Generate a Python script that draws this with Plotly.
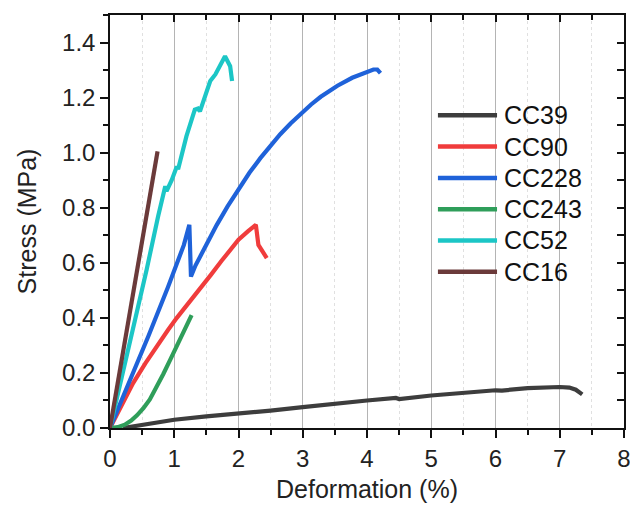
import plotly.graph_objects as go

# ---------------- data ----------------
names = ["CC39", "CC90", "CC228", "CC243", "CC52", "CC16"]
colors = ["#3d3d3d", "#f03c3c", "#1f62d9", "#2f9e5a", "#1cc6c6", "#6b3a3a"]

cc39_x = [0.2, 0.5, 1.0, 1.5, 2.0, 2.5, 3.0, 3.5, 4.0, 4.45, 4.5, 5.0, 5.5, 6.0, 6.1, 6.5, 7.0, 7.15, 7.25, 7.35]
cc39_y = [0.0, 0.012, 0.03, 0.042, 0.051, 0.063, 0.076, 0.089, 0.100, 0.109, 0.105, 0.118, 0.128, 0.137, 0.136, 0.145, 0.149, 0.147, 0.139, 0.122]

cc90_x = [0.0, 0.18, 0.36, 0.55, 0.73, 0.90, 1.04, 1.22, 1.40, 1.57, 1.74, 1.87, 2.0, 2.15, 2.27, 2.31, 2.36, 2.40, 2.44]
cc90_y = [0.0, 0.085, 0.163, 0.235, 0.30, 0.355, 0.40, 0.452, 0.503, 0.556, 0.608, 0.647, 0.684, 0.715, 0.738, 0.665, 0.647, 0.632, 0.617]

cc228_x = [0.0, 0.3, 0.6, 0.9, 1.06, 1.15, 1.235, 1.26, 1.33, 1.40, 1.53, 1.66, 1.83, 2.0, 2.17, 2.34, 2.5, 2.65, 2.81, 2.97, 3.13, 3.28, 3.54, 3.77, 4.0, 4.1, 4.16, 4.21]
cc228_y = [0.0, 0.165, 0.335, 0.51, 0.61, 0.665, 0.738, 0.55, 0.59, 0.623, 0.682, 0.737, 0.805, 0.868, 0.927, 0.980, 1.027, 1.067, 1.106, 1.142, 1.175, 1.203, 1.243, 1.272, 1.295, 1.302, 1.302, 1.289]

cc243_x = [0.0, 0.12, 0.23, 0.33, 0.42, 0.52, 0.62, 0.72, 0.83, 0.94, 1.04, 1.15, 1.27]
cc243_y = [0.0, 0.003, 0.012, 0.027, 0.046, 0.072, 0.104, 0.145, 0.196, 0.249, 0.298, 0.352, 0.41]

cc52_x = [0.0, 0.31, 0.57, 0.75, 0.86, 0.88, 0.96, 1.04, 1.06, 1.19, 1.32, 1.37, 1.40, 1.56, 1.64, 1.79, 1.87, 1.90]
cc52_y = [0.0, 0.31, 0.575, 0.77, 0.878, 0.86, 0.90, 0.95, 0.94, 1.06, 1.156, 1.16, 1.15, 1.26, 1.284, 1.35, 1.314, 1.26]

cc16_x = [0.0, 0.74]
cc16_y = [0.0, 1.005]

x_ticks = [0, 1, 2, 3, 4, 5, 6, 7, 8]
y_ticks = [0.0, 0.2, 0.4, 0.6, 0.8, 1.0, 1.2, 1.4]

series_x = [cc39_x, cc90_x, cc228_x, cc243_x, cc52_x, cc16_x]
series_y = [cc39_y, cc90_y, cc228_y, cc243_y, cc52_y, cc16_y]

FONT = "Liberation Sans, Arial, sans-serif"

fig = go.Figure()
for n, c, xs, ys in zip(names, colors, series_x, series_y):
    fig.add_trace(go.Scatter(x=xs, y=ys, mode="lines", name=n,
                             line=dict(color=c, width=4.2),
                             showlegend=False))

# custom legend (long line samples)
leg_top = 0.757
leg_step = 0.0757
for i, (n, c) in enumerate(zip(names, colors)):
    yy = leg_top - i * leg_step
    fig.add_shape(type="line", xref="paper", yref="paper",
                  x0=0.638, x1=0.753, y0=yy, y1=yy,
                  line=dict(color=c, width=4.5))
    fig.add_annotation(xref="paper", yref="paper", x=0.762, y=yy,
                       text=n, showarrow=False, xanchor="left", yanchor="middle",
                       font=dict(family=FONT, size=25, color="#111111"))

# the page body adds an 8px offset, so the figure is sized to the remaining space
fig.update_layout(
    width=630, height=499,
    margin=dict(l=102, r=14, t=7, b=79),
    paper_bgcolor="white", plot_bgcolor="white",
    font=dict(family=FONT, size=24, color="#222222"),
    xaxis=dict(range=[0, 8], tickvals=x_ticks, ticktext=[str(v) for v in x_ticks],
               automargin=False, tickfont=dict(size=24),
               showgrid=True, gridcolor="#b4b4b4", gridwidth=1,
               minor=dict(dtick=0.5, tick0=0, showgrid=True, gridcolor="#e0e0e0",
                          griddash="dot", ticks="outside", ticklen=5, tickcolor="#111"),
               ticks="outside", ticklen=8, tickwidth=1.5, tickcolor="#111",
               showline=True, linecolor="#111", linewidth=1.5,
               zeroline=False,
               title=dict(text="Deformation (%)", font=dict(size=25), standoff=10)),
    yaxis=dict(range=[0, 1.5], tickvals=y_ticks, ticktext=["%.1f" % v for v in y_ticks],
               automargin=False, tickfont=dict(size=24),
               showgrid=False,
               minor=dict(dtick=0.1, tick0=0, showgrid=False, ticks="outside",
                          ticklen=5, tickcolor="#111"),
               ticks="outside", ticklen=8, tickwidth=1.5, tickcolor="#111",
               showline=True, linecolor="#111", linewidth=1.5,
               zeroline=False,
               title=dict(text="Stress (MPa)", font=dict(size=25), standoff=18)),
    xaxis2=dict(overlaying="x", side="top", range=[0, 8], tickvals=x_ticks,
                automargin=False,
                showticklabels=False, showgrid=False, zeroline=False,
                minor=dict(dtick=0.5, tick0=0, ticks="inside", ticklen=5, tickcolor="#111"),
                ticks="inside", ticklen=7, tickwidth=1.5, tickcolor="#111",
                showline=True, linecolor="#111", linewidth=1.5),
    yaxis2=dict(overlaying="y", side="right", range=[0, 1.5], tickvals=y_ticks,
                automargin=False,
                showticklabels=False, showgrid=False, zeroline=False,
                minor=dict(dtick=0.1, tick0=0, ticks="inside", ticklen=7, tickcolor="#111"),
                ticks="inside", ticklen=7, tickwidth=1.5, tickcolor="#111",
                showline=True, linecolor="#111", linewidth=1.5),
)
# invisible trace to anchor the mirror axes
fig.add_trace(go.Scatter(x=[0], y=[0], xaxis="x2", yaxis="y2", mode="markers",
                         marker=dict(opacity=0), showlegend=False, hoverinfo="skip"))

fig.write_html("out.html")
